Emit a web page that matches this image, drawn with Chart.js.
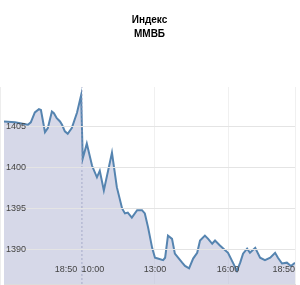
<!DOCTYPE html>
<html>
<head>
<meta charset="utf-8">
<script src="https://cdn.jsdelivr.net/npm/chart.js@4/dist/chart.umd.min.js"></script>
<style>
  html, body { margin: 0; padding: 0; background: #fff; }
  #wrap { width: 300px; height: 285px; position: relative; }
</style>
</head>
<body>
<div id="wrap"><canvas id="c"></canvas></div>
<script>
// Minutes relative to 10:00 of the current session (negative = previous session, which closed at 18:50)
const minutes = [
  -192, -165, -133, -126, -116, -106, -101, -91, -84, -74, -69, -62, -54, -49, -42, -35, -25, -12, -2,
  2, 12, 25, 37, 44, 54, 74, 86, 99, 106, 113, 123, 136, 148, 155, 163, 173, 180, 187, 200, 205,
  212, 222, 229, 237, 247, 254, 264, 274, 284, 291, 303, 311, 321, 328, 340, 360, 372, 382, 390,
  397, 407, 414, 427, 439, 451, 464, 476, 483, 493, 505, 515, 525
];
const values = [
  1405.6, 1405.5, 1405.2, 1405.5, 1406.7, 1407.1, 1407.0, 1404.3, 1404.8, 1406.8, 1406.6, 1406.0, 1405.6, 1405.2, 1404.4, 1404.1, 1404.8, 1406.7, 1408.8,
  1401.1, 1402.9, 1400.2, 1398.8, 1399.6, 1397.2, 1401.8, 1397.6, 1395.0, 1394.4, 1394.5, 1393.9, 1394.8, 1394.8, 1394.4, 1392.7, 1390.2, 1389.0, 1388.9, 1388.7, 1389.0,
  1391.7, 1391.3, 1389.5, 1389.0, 1388.4, 1388.0, 1387.7, 1388.9, 1389.6, 1391.1, 1391.7, 1391.3, 1390.7, 1391.1, 1390.5, 1389.6, 1388.4, 1387.4, 1388.4,
  1389.5, 1390.1, 1389.6, 1390.2, 1389.0, 1388.7, 1389.0, 1389.6, 1389.0, 1388.3, 1388.4, 1388.0, 1388.4
];
const sessionBoundary = 0;              // 10:00, start of the current session
const xTickPositions = [-67, 27, 180, 360, 525];
const xTickLabels = ['18:50', '10:00', '13:00', '16:00', '18:50'];
const yTickValues = [1390, 1395, 1400, 1405];
const yMin = 1385.8, yMax = 1409.8;
const xMin = -192, xMax = 525;
const titleLines = ['Индекс', 'ММВБ'];

const lineData = minutes.map((m, i) => ({ x: m, y: values[i] }));
const boundaryData = [{ x: sessionBoundary, y: yMin }, { x: sessionBoundary, y: yMax }];

new Chart(document.getElementById('c'), {
  type: 'line',
  data: {
    datasets: [
      {
        data: boundaryData,
        borderColor: 'rgba(150,155,190,0.75)',
        borderWidth: 1,
        borderDash: [2, 2],
        pointRadius: 0,
        fill: false
      },
      {
        data: lineData,
        borderColor: '#5584b0',
        borderWidth: 2,
        pointRadius: 0,
        tension: 0,
        fill: 'start',
        backgroundColor: 'rgba(187,190,217,0.6)'
      }
    ]
  },
  options: {
    responsive: true,
    maintainAspectRatio: false,
    animation: false,
    layout: { padding: { left: 4, right: 5, top: 0, bottom: 1 } },
    plugins: {
      legend: { display: false },
      tooltip: { enabled: false },
      title: {
        display: true,
        text: titleLines,
        color: '#000',
        font: { family: 'Liberation Sans', size: 10, weight: 'bold', lineHeight: 1.4 },
        padding: { top: 13, bottom: 46 }
      }
    },
    scales: {
      x: {
        type: 'linear',
        position: 'bottom',
        min: xMin,
        max: xMax,
        afterBuildTicks: (s) => { s.ticks = xTickPositions.map(v => ({ value: v })); },
        afterFit: (s) => { s.height = 0; s.paddingLeft = 0; s.paddingRight = 0; },
        ticks: {
          z: 2,
          mirror: true,
          align: 'inner',
          padding: 9,
          maxRotation: 0,
          autoSkip: false,
          color: '#444',
          font: { family: 'Liberation Sans', size: 9 },
          callback: (v, i) => xTickLabels[i]
        },
        grid: {
          drawTicks: false,
          color: (ctx) => (ctx.index < 2 ? 'rgba(0,0,0,0)' : '#f0f0f0'),
          lineWidth: 1,
          z: -1
        },
        border: { display: true, color: '#dcdcdc' }
      },
      y: {
        position: 'left',
        min: yMin,
        max: yMax,
        afterBuildTicks: (s) => { s.ticks = yTickValues.map(v => ({ value: v })); },
        afterFit: (s) => { s.width = 0; s.paddingTop = 0; s.paddingBottom = 0; },
        ticks: {
          z: 2,
          mirror: true,
          padding: 2,
          color: '#444',
          font: { family: 'Liberation Sans', size: 9 },
          callback: (v) => String(v)
        },
        grid: {
          drawTicks: false,
          color: '#e4e4e4',
          lineWidth: 1,
          z: 1
        },
        border: { display: true, color: '#dcdcdc' }
      }
    }
  }
});
</script>
</body>
</html>
